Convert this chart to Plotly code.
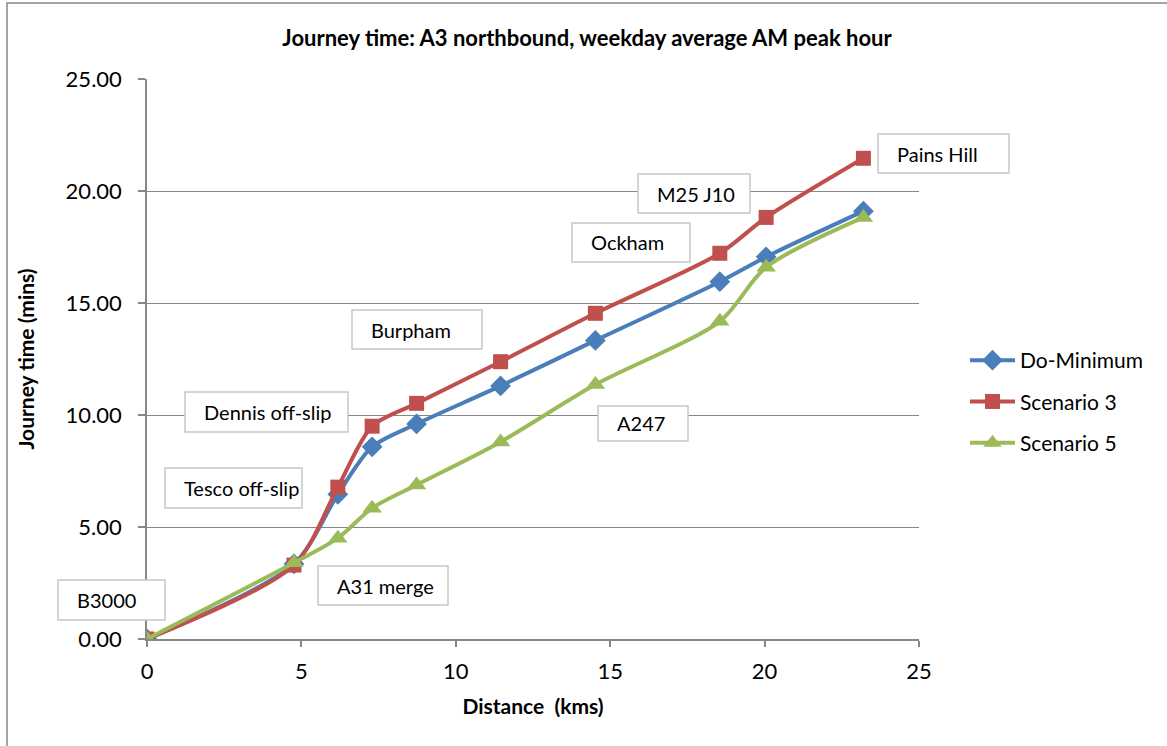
import plotly.graph_objects as go

# Distance along the route (km) at each timing point
distance_km = [0, 4.76, 6.18, 7.29, 8.73, 11.45, 14.52, 18.55, 20.05, 23.2]

# Cumulative journey time (minutes) for each scenario
do_minimum = [0, 3.35, 6.46, 8.58, 9.6, 11.3, 13.33, 15.95, 17.06, 19.1]
scenario_3 = [0, 3.3, 6.78, 9.5, 10.52, 12.38, 14.54, 17.22, 18.82, 21.46]
scenario_5 = [0, 3.4, 4.5, 5.84, 6.88, 8.8, 11.36, 14.18, 16.6, 18.82]

series_names = ["Do-Minimum", "Scenario 3", "Scenario 5"]
x_ticks = [0, 5, 10, 15, 20, 25]
y_ticks = [0, 5, 10, 15, 20, 25]

# Callout labels for the junctions: text, box left/top/width/height in pixels
callouts = [
    ("B3000", 58, 580, 107, 40),
    ("A31 merge", 318, 566, 130, 39),
    ("Tesco off-slip", 165, 468, 137, 40),
    ("Dennis off-slip", 185, 392, 163, 40),
    ("Burpham", 352, 310, 130, 39),
    ("A247", 598, 406, 90, 35),
    ("Ockham", 572, 223, 118, 39),
    ("M25 J10", 638, 174, 112, 39),
    ("Pains Hill", 878, 134, 131, 39),
]

W, H = 1167, 746
L, R, T, B = 147, 919, 79, 639
FONT = "Lato"
GREY = "#878787"


def px_to_paper(px, py):
    return (px - L) / (R - L), (B - py) / (B - T)


fig = go.Figure()

styles = [
    ("#4A7EBB", "diamond", 16),
    ("#C0504D", "square", 15),
    ("#9BBB59", "triangle-up", 17),
]
for name, ys, (col, sym, sz) in zip(series_names, [do_minimum, scenario_3, scenario_5], styles):
    fig.add_trace(go.Scatter(
        x=distance_km, y=ys, name=name, legendgroup=name,
        mode="lines+markers",
        line=dict(color=col, width=4, shape="spline", smoothing=0.8),
        marker=dict(symbol=sym, size=sz, color=col),
    ))

shapes = []
annotations = []
for text, bx, by, bw, bh in callouts:
    bx0, by0 = px_to_paper(bx, by)
    bx1, by1 = px_to_paper(bx + bw, by + bh)
    shapes.append(dict(type="rect", xref="paper", yref="paper",
                       x0=bx0, y0=by1, x1=bx1, y1=by0,
                       line=dict(color="#C8C8C8", width=1.5), fillcolor="white", layer="above"))
    tx, ty = px_to_paper(bx + 17, by + bh / 2)
    annotations.append(dict(
        text=text, xref="paper", yref="paper", x=tx, y=ty,
        xanchor="left", yanchor="middle", showarrow=False,
        font=dict(family=FONT, size=20, color="black"),
    ))

# outer chart border
x0, y0 = px_to_paper(7, 3)
x1, y1 = px_to_paper(1200, 780)
shapes.append(dict(type="rect", xref="paper", yref="paper", x0=x0, y0=y1, x1=x1, y1=y0,
                   line=dict(color=GREY, width=1.5), fillcolor="rgba(0,0,0,0)", layer="below"))

fig.update_layout(
    width=W, height=H,
    margin=dict(l=L, r=W - R, t=T, b=H - B),
    paper_bgcolor="white", plot_bgcolor="white",
    font=dict(family=FONT, color="black"),
    title=dict(text="<b>Journey time: A3 northbound, weekday average AM peak hour</b>",
               x=0.503, xref="container", y=1 - 38 / H, yref="container",
               xanchor="center", yanchor="middle",
               font=dict(family=FONT, size=22, color="black")),
    showlegend=True,
    legend=dict(x=px_to_paper(965, 0)[0], y=px_to_paper(0, 340)[1],
                xanchor="left", yanchor="top", tracegroupgap=11,
                itemwidth=45,
                font=dict(family=FONT, size=21, color="black"),
                bgcolor="rgba(0,0,0,0)"),
    annotations=annotations,
    shapes=shapes,
)

fig.update_xaxes(
    range=[0, 25], tickvals=x_ticks, ticktext=[str(v) for v in x_ticks],
    showgrid=False, zeroline=False,
    showline=True, linecolor=GREY, linewidth=1.5,
    ticks="outside", ticklen=6, tickcolor=GREY, tickwidth=1.5,
    ticklabelstandoff=6,
    tickfont=dict(family=FONT, size=22, color="black"),
    title=dict(text="<b>Distance  (kms)</b>", standoff=16,
               font=dict(family=FONT, size=21, color="black")),
)
fig.update_yaxes(
    range=[0, 25], tickvals=y_ticks, ticktext=[f"{v:.2f}" for v in y_ticks],
    showgrid=True, gridcolor=GREY, gridwidth=1.2, zeroline=False,
    showline=True, linecolor=GREY, linewidth=1.5,
    ticks="outside", ticklen=7, tickcolor=GREY, tickwidth=1.5,
    ticklabelstandoff=12,
    tickfont=dict(family=FONT, size=22, color="black"),
    title=dict(text="<b>Journey time (mins)</b>", standoff=25,
               font=dict(family=FONT, size=21, color="black")),
)

fig.write_html("out.html")
